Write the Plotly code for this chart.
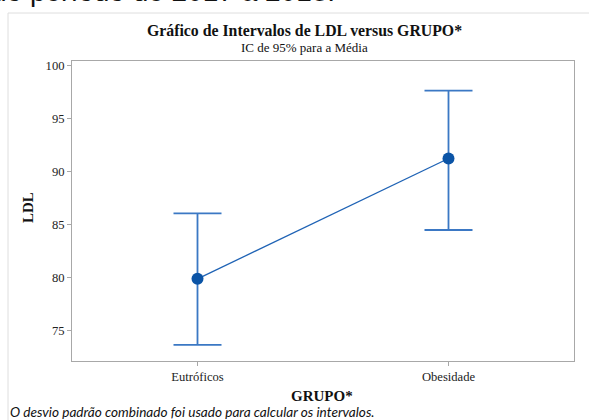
import plotly.graph_objects as go

groups = ["Eutróficos", "Obesidade"]
means = [79.87, 91.22]
upper = [86.04, 97.62]
lower = [73.65, 84.48]
yticks = [75, 80, 85, 90, 95, 100]

W, H = 589, 420
L, R, T, B = 72, 15, 61, 59
pw, ph = W - L - R, H - T - B

def px(x):
    return (x - L) / pw

def py(y):
    return (H - B - y) / ph

err_plus = [u - m for u, m in zip(upper, means)]
err_minus = [m - l for m, l in zip(means, lower)]

fig = go.Figure()
fig.add_trace(go.Scatter(
    x=groups, y=means, mode="lines+markers",
    line=dict(color="#1f63b5", width=1.3),
    marker=dict(color="#0b54a6", size=12),
    error_y=dict(type="data", array=err_plus, arrayminus=err_minus,
                 color="#3b78c4", thickness=1.8, width=24),
    hoverinfo="skip", showlegend=False,
))

serif = "Liberation Serif"
fig.update_layout(
    width=W, height=H,
    margin=dict(l=L, r=R, t=T, b=B, autoexpand=False),
    paper_bgcolor="white", plot_bgcolor="white",
    font=dict(family=serif, color="#222222", size=12),
    xaxis=dict(range=[-0.5, 1.5], showgrid=False, zeroline=False,
               showline=True, mirror=True, linecolor="#a8a8a8", linewidth=1,
               ticks="outside", ticklen=4, tickcolor="#a8a8a8",
               tickfont=dict(family=serif, size=12.6, color="#222222")),
    yaxis=dict(range=[72.12, 100.42], tickvals=yticks, showgrid=False, zeroline=False,
               showline=True, mirror=True, linecolor="#a8a8a8", linewidth=1,
               ticks="outside", ticklen=4, tickcolor="#a8a8a8",
               tickfont=dict(family=serif, size=12.6, color="#222222")),
    shapes=[dict(type="rect", xref="paper", yref="paper",
                 x0=px(8), x1=px(620), y0=py(440), y1=py(13),
                 line=dict(color="#dedede", width=1), fillcolor="rgba(0,0,0,0)",
                 layer="below")],
    annotations=[
        dict(text="do período de 2017 a 2018.", xref="paper", yref="paper",
             x=px(-11), y=py(9), xanchor="left", yanchor="bottom",
             showarrow=False, font=dict(family="Liberation Sans", size=28, color="#111111")),
        dict(text="<b>Gráfico de Intervalos de LDL versus GRUPO*</b>", xref="paper", yref="paper",
             x=px(304.5), y=py(30), xanchor="center", yanchor="middle",
             showarrow=False, font=dict(family=serif, size=15.8, color="#111111")),
        dict(text="IC de 95% para a Média", xref="paper", yref="paper",
             x=px(304), y=py(47), xanchor="center", yanchor="middle",
             showarrow=False, font=dict(family=serif, size=13, color="#111111")),
        dict(text="<b>LDL</b>", xref="paper", yref="paper",
             x=px(28), y=py(208), xanchor="center", yanchor="middle", textangle=-90,
             showarrow=False, font=dict(family=serif, size=15, color="#111111")),
        dict(text="<b>GRUPO*</b>", xref="paper", yref="paper",
             x=px(322), y=py(396), xanchor="center", yanchor="middle",
             showarrow=False, font=dict(family=serif, size=15, color="#111111")),
        dict(text="<i>O desvio padrão combinado foi usado para calcular os intervalos.</i>",
             xref="paper", yref="paper",
             x=px(8), y=py(411.5), xanchor="left", yanchor="middle",
             showarrow=False, font=dict(family="Lato", size=13.6, color="#111111")),
    ],
)

fig.write_html("out.html", config={"displayModeBar": False},
               post_script="document.body.style.margin='0';document.body.style.overflow='hidden';")
